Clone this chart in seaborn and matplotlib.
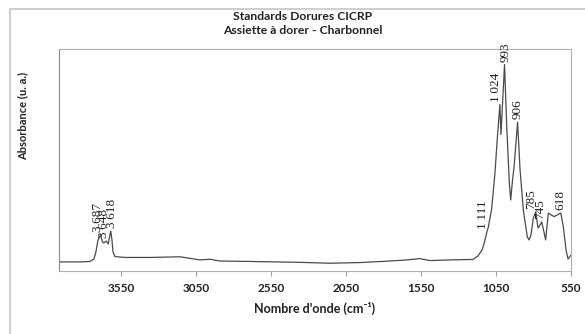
import numpy as np
import pandas as pd
import seaborn as sns
import matplotlib.pyplot as plt
from matplotlib.patches import Rectangle

# Spectre (nombre d'onde en cm-1, absorbance en u. a.)
wavenumber = [3963, 3823, 3757, 3730, 3717, 3703, 3687, 3673, 3665, 3648,
              3635, 3618, 3610, 3603, 3590, 3523, 3357, 3157, 3023, 2957,
              2890, 2690, 2357, 2157, 1957, 1757, 1643, 1557, 1490, 1357,
              1203, 1170, 1143, 1128, 1111, 1101, 1079, 1057, 1041, 1024,
              1017, 993, 979, 961, 952, 939, 930, 906, 890, 868,
              841, 830, 817, 801, 785, 770, 760, 745, 719, 701,
              663, 618, 601, 583, 570, 552]
absorbance = [0.041, 0.041, 0.043, 0.054, 0.086, 0.140, 0.162, 0.131, 0.126, 0.135,
              0.122, 0.180, 0.140, 0.086, 0.065, 0.061, 0.061, 0.064, 0.050, 0.053,
              0.045, 0.043, 0.039, 0.035, 0.038, 0.045, 0.050, 0.056, 0.047, 0.050,
              0.052, 0.068, 0.095, 0.126, 0.176, 0.198, 0.280, 0.440, 0.600, 0.750,
              0.615, 0.930, 0.660, 0.396, 0.320, 0.415, 0.465, 0.670, 0.460, 0.275,
              0.153, 0.140, 0.162, 0.239, 0.266, 0.194, 0.203, 0.221, 0.140, 0.261,
              0.245, 0.261, 0.198, 0.095, 0.054, 0.070]

peak_positions = [3687, 3648, 3618, 1111, 1024, 993, 906, 785, 745, 618]
peak_labels = ["3\u2009687", "3\u2009648", "3\u2009618", "1\u2009111", "1\u2009024",
               "993", "906", "785", "745", "618"]

x_ticks = [3550, 3050, 2550, 2050, 1550, 1050, 550]

df = pd.DataFrame({"wn": wavenumber, "abs": absorbance})

sns.set_style("white")
plt.rcParams["font.family"] = ["Lato", "DejaVu Sans"]

fig = plt.figure(figsize=(5.85, 3.34), dpi=100)
W, H = 585, 334
ax_top, ax_bottom = 49, 271
ax = fig.add_axes([59 / W, (H - ax_bottom) / H, 512 / W, (ax_bottom - ax_top) / H])
ax_h = ax_bottom - ax_top

sns.lineplot(data=df, x="wn", y="abs", sort=False, estimator=None,
             color="#4a4a4a", linewidth=0.9, ax=ax)

ax.set_xlim(3963, 550)
ax.set_ylim(0, 1)
ax.set_xticks(x_ticks)
ax.set_xticklabels([str(t) for t in x_ticks])
ax.set_yticks([])

ax.tick_params(axis="x", direction="out", length=3.5, width=0.8, color="#a0a0a0",
               labelsize=8.5, pad=5, labelcolor="#222222", bottom=True)
for lab in ax.get_xticklabels():
    lab.set_fontweight("bold")

for side in ["left", "bottom", "top", "right"]:
    ax.spines[side].set_color("#b0b0b0")
    ax.spines[side].set_linewidth(0.8)
ax.spines["left"].set_color("#8c8c8c")

ax.set_xlabel("Nombre d'onde (cm\u207b\u00b9)", fontsize=9, fontweight="bold",
              color="#222222", va="center")
ax.xaxis.set_label_coords(0.5, -37 / ax_h)
ax.set_ylabel("Absorbance (u. a.)", fontsize=8, fontweight="bold",
              color="#222222", va="center")
ax.yaxis.set_label_coords(-36 / 512, (ax_bottom - 116) / ax_h)

# étiquettes des pics (petits décalages horizontaux comme dans Excel)
label_dx = [-2, -2, 1, -4, -4, 1, 0, -5, -2, 0]
peak_heights = np.interp(peak_positions, wavenumber[::-1], absorbance[::-1])
for wn, h, txt, dx in zip(peak_positions, peak_heights, peak_labels, label_dx):
    ax.annotate(txt, xy=(wn, h), xytext=(dx, 3), textcoords="offset pixels",
                rotation=90, ha="center", va="bottom", fontsize=9.5,
                family="Liberation Serif", color="#222222")

fig.text(303 / W, 1 - 17 / H, "Standards Dorures CICRP", ha="center", va="center",
         fontsize=8.7, fontweight="bold", color="#222222")
fig.text(303 / W, 1 - 31 / H, "Assiette à dorer - Charbonnel", ha="center",
         va="center", fontsize=8.7, fontweight="bold", color="#222222")

# cadre du graphique
fig.patches.append(Rectangle((10 / W, -0.1), 1.2, (H - 9) / H + 0.1,
                             transform=fig.transFigure, fill=False,
                             edgecolor="#cfcfcf", linewidth=1.5))

fig.savefig("out.png", dpi=100)
